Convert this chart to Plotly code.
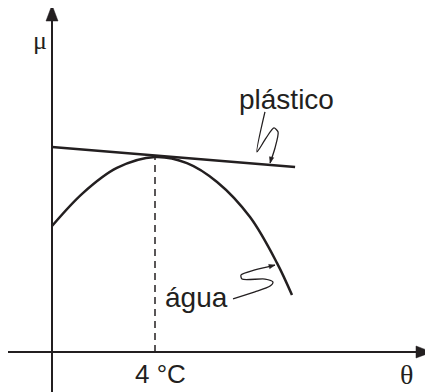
import plotly.graph_objects as go

# water curve (theta in degC, mu in arbitrary units, peak = 1)
theta_agua = [0, 1.2, 2.52, 4.0, 5.24, 6.41, 7.69, 8.74, 9.32]
mu_agua = [0.646, 0.815, 0.944, 1.0, 0.969, 0.872, 0.692, 0.456, 0.292]

# plastic: straight line
theta_plastico = [0, 9.44]
mu_plastico = [1.051, 0.949]

# vertical dashed marker at 4 degC
theta_max = 4.0
mu_max = 1.0

# leader squiggles
lead_plast_x = [8.27, 7.96, 8.31, 8.62, 8.78, 8.66, 8.47]
lead_plast_y = [1.231, 1.026, 1.097, 1.149, 1.128, 1.046, 0.969]
lead_agua_x = [7.03, 7.88, 8.47, 8.58, 8.27, 7.38, 7.34, 7.88, 8.66]
lead_agua_y = [0.272, 0.308, 0.338, 0.359, 0.374, 0.374, 0.395, 0.421, 0.446]

# pixel scale of the drawing; page body has an 8px margin
PX_X = 25.75
PX_Y = 195.0
BODY = 8
x_range = [(BODY - 52) / PX_X, 381 / PX_X]
y_range = [-40 / PX_Y, (352 - BODY) / PX_Y]

ink = "#231f20"
sans = "Liberation Sans, Arial, sans-serif"
serif = "Liberation Serif, Times New Roman, serif"

fig = go.Figure()

# axes
fig.add_trace(go.Scatter(x=[0, 0], y=[y_range[0], 1.70], mode="lines",
                         line=dict(color=ink, width=2), hoverinfo="skip"))
fig.add_trace(go.Scatter(x=[-1.75, 14.3], y=[0, 0], mode="lines",
                         line=dict(color=ink, width=2), hoverinfo="skip"))

fig.add_trace(go.Scatter(x=[theta_max, theta_max], y=[0, mu_max], mode="lines",
                         line=dict(color=ink, width=1.5, dash="7px,5px"), hoverinfo="skip"))
fig.add_trace(go.Scatter(x=theta_plastico, y=mu_plastico, mode="lines",
                         line=dict(color=ink, width=2.5), hoverinfo="skip"))
fig.add_trace(go.Scatter(x=theta_agua, y=mu_agua, mode="lines",
                         line=dict(color=ink, width=2.5, shape="spline", smoothing=1.0),
                         hoverinfo="skip"))

fig.add_trace(go.Scatter(x=lead_plast_x, y=lead_plast_y, mode="lines",
                         line=dict(color=ink, width=1.3, shape="spline", smoothing=0.7),
                         hoverinfo="skip"))
fig.add_trace(go.Scatter(x=lead_agua_x, y=lead_agua_y, mode="lines",
                         line=dict(color=ink, width=1.3, shape="spline", smoothing=0.7),
                         hoverinfo="skip"))


def head(tx, ty, dx, dy, length, half):
    # triangle arrow head, sizes in pixels, direction (dx, dy) in pixel space
    bx = tx - dx * length / PX_X
    by = ty - dy * length / PX_Y
    px, py = -dy, dx
    p1 = (bx + px * half / PX_X, by + py * half / PX_Y)
    p2 = (bx - px * half / PX_X, by - py * half / PX_Y)
    return dict(type="path", path=f"M{tx},{ty} L{p1[0]},{p1[1]} L{p2[0]},{p2[1]} Z",
                fillcolor=ink, line=dict(color=ink, width=0.5))


shapes = [
    head(0, 347 / PX_Y, 0, 1, 16, 6),
    head(380 / PX_X, 0, 1, 0, 16, 6),
    head(lead_plast_x[-1], lead_plast_y[-1], -0.25, -0.97, 6, 2.2),
    head(lead_agua_x[-1], lead_agua_y[-1], 0.97, 0.25, 6, 2.2),
]

annotations = [
    dict(x=9.09, y=1.297, text="plástico", font=dict(family=sans, size=28, color=ink)),
    dict(x=5.63, y=0.277, text="água", font=dict(family=sans, size=28, color=ink)),
    dict(x=4.23, y=-0.113, text="4 °C", font=dict(family=sans, size=26, color=ink)),
    dict(x=-0.466, y=1.595, text="μ", font=dict(family=serif, size=26, color=ink)),
    dict(x=13.75, y=-0.113, text="θ", font=dict(family=serif, size=28, color=ink)),
]
for a in annotations:
    a.update(showarrow=False, xanchor="center", yanchor="middle")

fig.update_layout(
    width=433 - BODY, height=392 - BODY,
    margin=dict(l=0, r=0, t=0, b=0),
    paper_bgcolor="white", plot_bgcolor="white",
    showlegend=False,
    xaxis=dict(range=x_range, visible=False, fixedrange=True),
    yaxis=dict(range=y_range, visible=False, fixedrange=True),
    shapes=shapes, annotations=annotations,
)

fig.write_html("out.html")
